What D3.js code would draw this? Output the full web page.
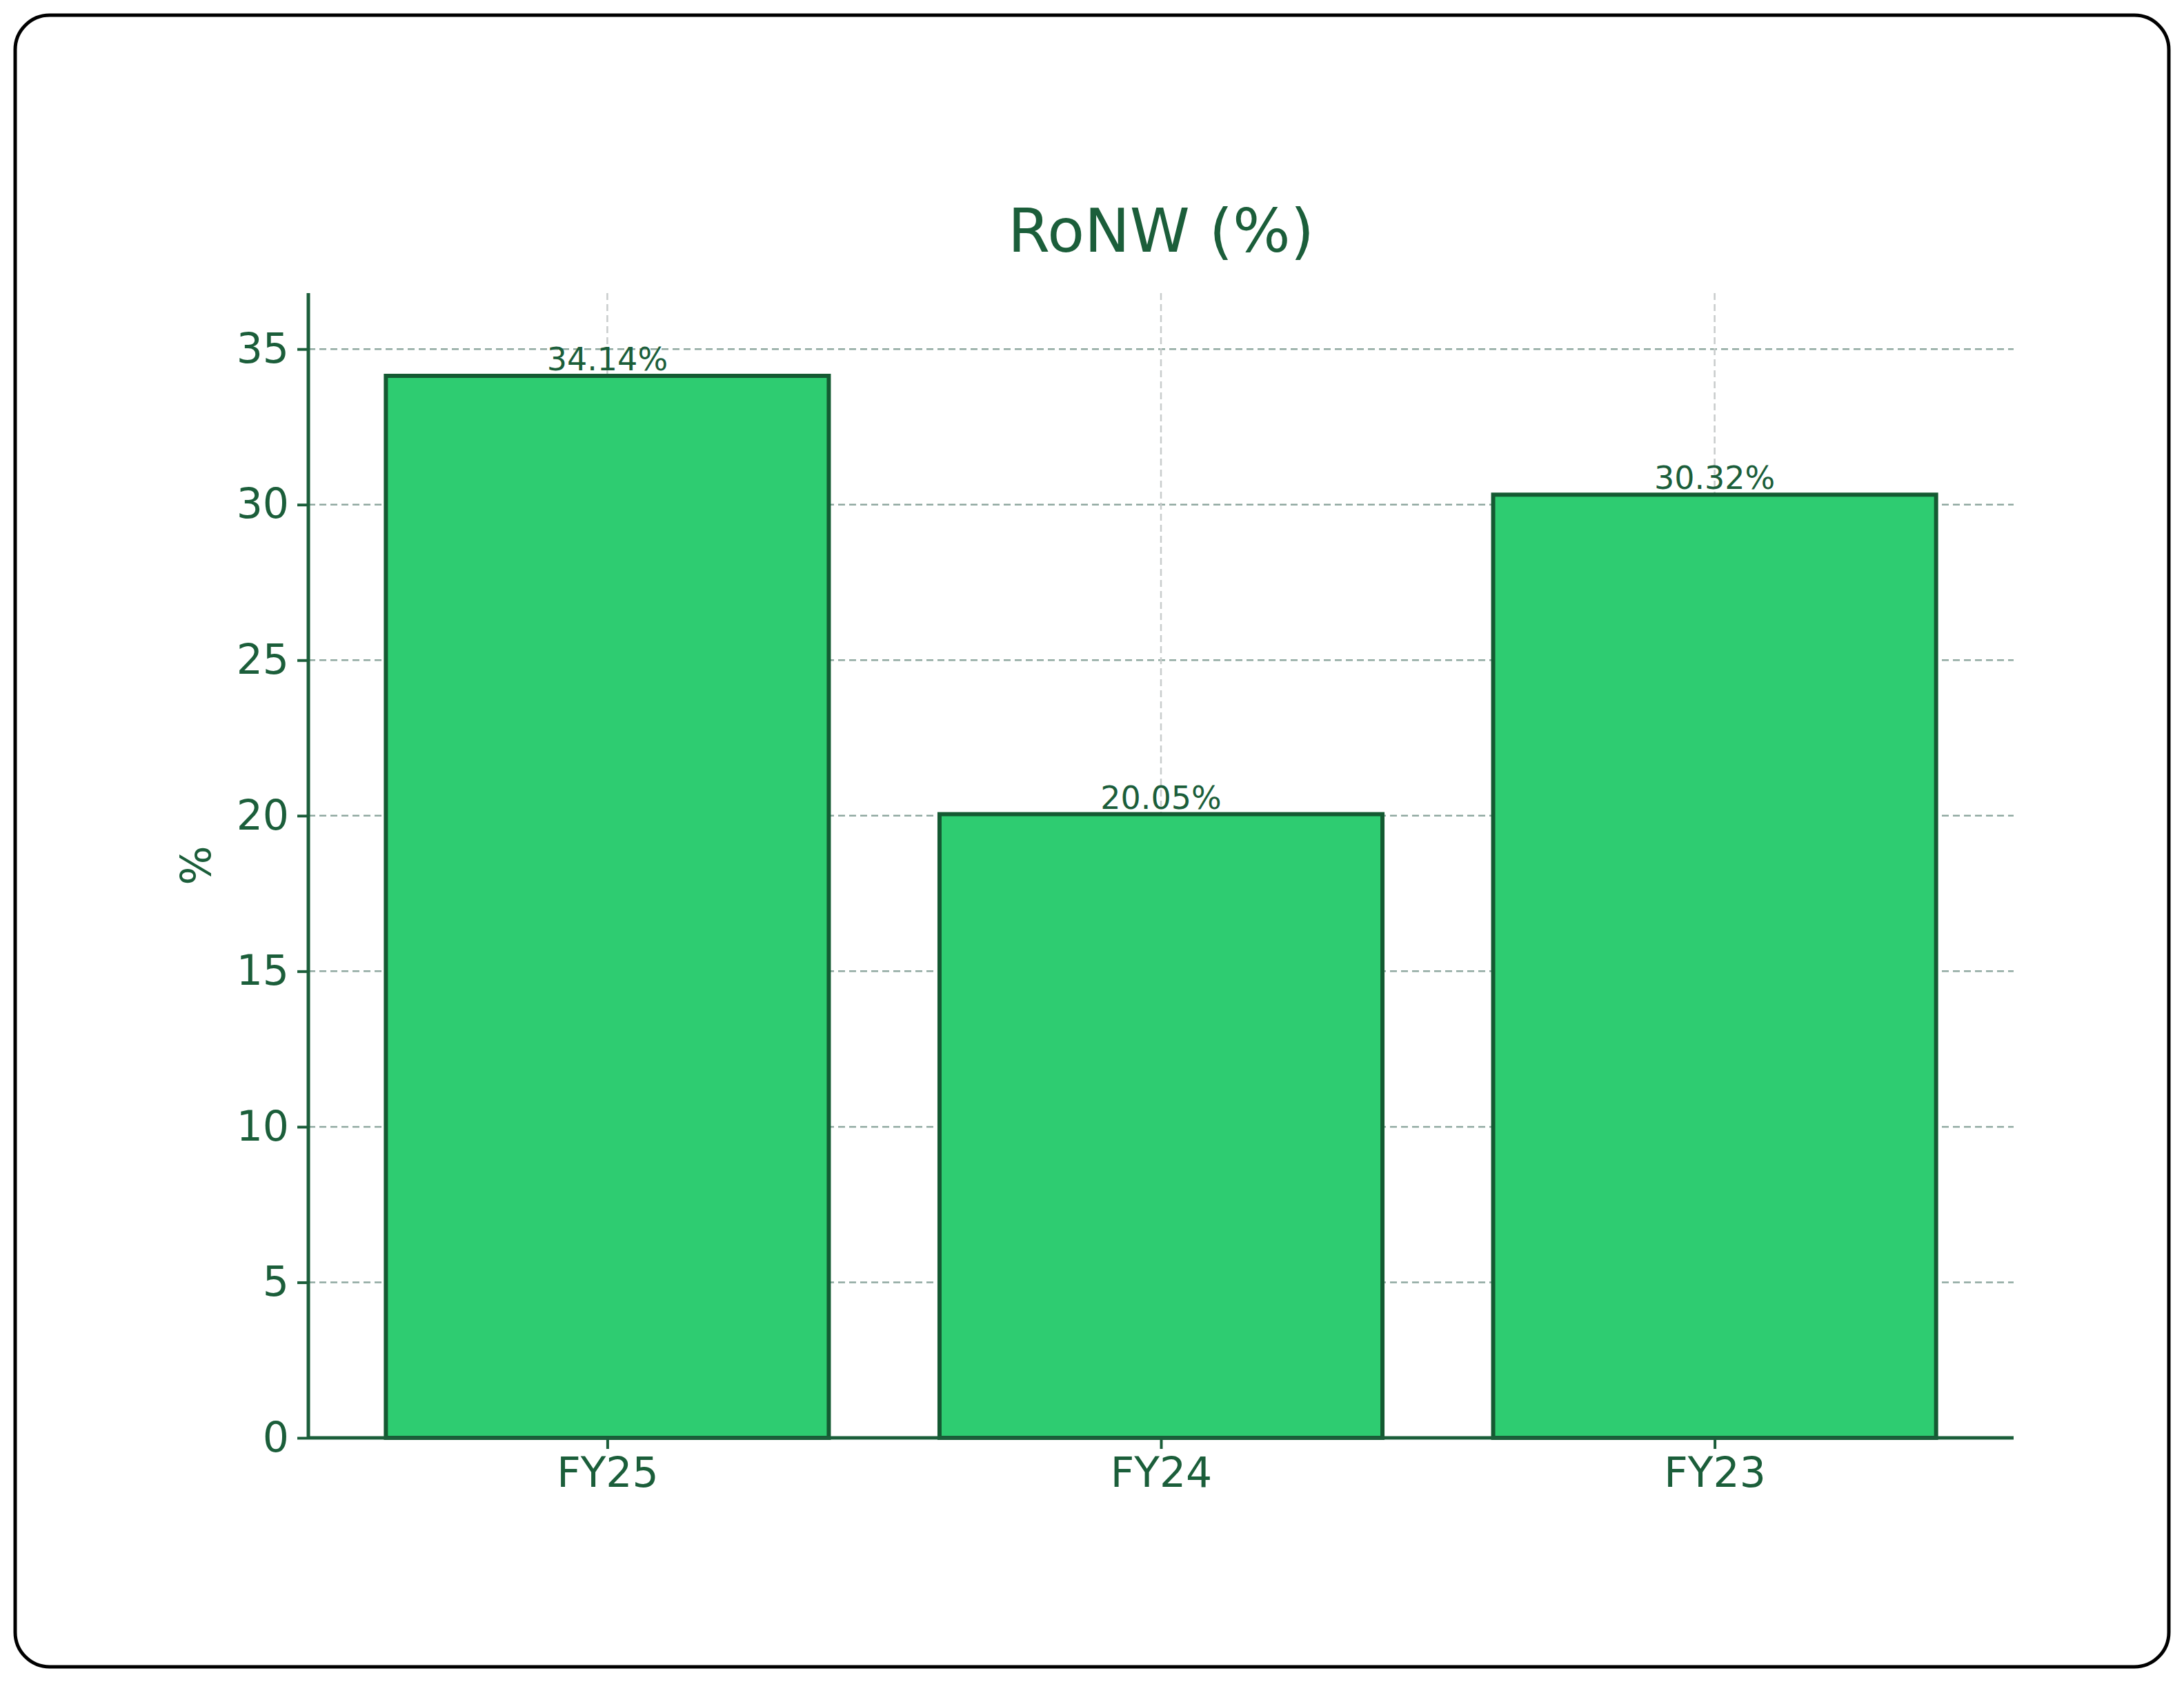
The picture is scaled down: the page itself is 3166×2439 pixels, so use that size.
<!DOCTYPE html>
<html><head><meta charset="utf-8">
<script src="https://cdn.jsdelivr.net/npm/d3@7"></script>
<style>body{margin:0;background:#fff}</style></head>
<body><svg id="c" width="3166" height="2439"></svg>
<script>
const categories = ["FY25","FY24","FY23"];
const values = [34.14, 20.05, 30.32];
const yTicks = [0,5,10,15,20,25,30,35];
const title = "RoNW (%)";
const yLabel = "%";

const svg = d3.select("#c");
const dark = "#1b5e3a";
const font = "DejaVu Sans";
svg.append("rect").attr("x",22).attr("y",22).attr("width",3122).attr("height",2395)
  .attr("rx",50).attr("fill","#fff").attr("stroke","#000").attr("stroke-width",5);

const L=447,R=2919,T=425,B=2085;
const x = d3.scaleLinear().domain([-0.54,2.54]).range([L,R]);
const y = d3.scaleLinear().domain([0,36.8]).range([B,T]);
const bw = x(0.8)-x(0);

// horizontal grid
svg.append("g").selectAll("line").data(yTicks.slice(1)).join("line")
  .attr("x1",L).attr("x2",R).attr("y1",d=>y(d)).attr("y2",d=>y(d))
  .attr("stroke","#8fa8a0").attr("stroke-width",2.5).attr("stroke-dasharray","10,6");
// vertical grid
svg.append("g").selectAll("line").data(categories).join("line")
  .attr("x1",(d,i)=>x(i)).attr("x2",(d,i)=>x(i)).attr("y1",T).attr("y2",B)
  .attr("stroke","#c8cccc").attr("stroke-width",2.5).attr("stroke-dasharray","10,6");

svg.append("g").selectAll("rect").data(values).join("rect")
  .attr("x",(d,i)=>x(i)-bw/2).attr("width",bw)
  .attr("y",d=>y(d)).attr("height",d=>B-y(d))
  .attr("fill","#2ecc71").attr("stroke","#145a32").attr("stroke-width",6);

svg.append("g").selectAll("text").data(values).join("text")
  .attr("x",(d,i)=>x(i)).attr("y",d=>y(d)-8).attr("text-anchor","middle")
  .attr("font-family",font).attr("font-size",46).attr("fill",dark)
  .text(d=>d.toFixed(2)+"%");

const ya = svg.append("g").attr("transform",`translate(${L},0)`)
  .call(d3.axisLeft(y).tickValues(yTicks).tickSize(16).tickPadding(12));
const xa = svg.append("g").attr("transform",`translate(0,${B})`)
  .call(d3.axisBottom(x).tickValues([0,1,2]).tickFormat(i=>categories[i]).tickSize(16).tickPadding(12));
[ya,xa].forEach(a=>{
  a.selectAll("path").attr("stroke",dark).attr("stroke-width",5);
  a.selectAll("line").attr("stroke",dark).attr("stroke-width",4);
  a.selectAll("text").attr("font-family",font).attr("font-size",60).attr("fill",dark);
});
xa.select(".domain").attr("d",`M${L},0H${R}`);
ya.select(".domain").attr("d",`M0,${B}V${T}`);

svg.append("text").attr("x",(L+R)/2).attr("y",365).attr("text-anchor","middle")
  .attr("font-family",font).attr("font-size",88).attr("fill",dark).text(title);
svg.append("text").attr("transform",`translate(305,${(T+B)/2}) rotate(-90)`)
  .attr("text-anchor","middle").attr("font-family",font).attr("font-size",60).attr("fill",dark).text(yLabel);
</script></body></html>
